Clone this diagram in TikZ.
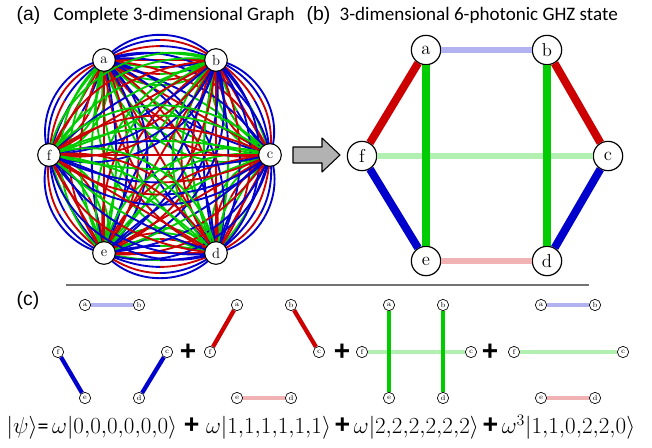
\documentclass[tikz,border=0pt]{standalone}
\usepackage{fontspec}
\usetikzlibrary{calc, positioning, backgrounds}
\newfontfamily\labelfont{Carlito}
\newfontfamily\tagfont{Liberation Sans}

\definecolor{modeblue}{RGB}{0,0,204}
\definecolor{modered}{RGB}{204,0,0}
\definecolor{modegreen}{RGB}{0,204,0}

\newcommand{\boldplus}[1]{{\tagfont\bfseries\fontsize{#1}{#1}\selectfont +}}
\newcommand{\ket}[1]{|#1\rangle}

\tikzset{
  fullnode/.style={circle, draw, fill=white, line width=0.8pt, minimum size=17pt, inner sep=0pt, font=\fontsize{11}{11}\selectfont},
  ghznode/.style={circle, draw, fill=white, line width=0.9pt, minimum size=22pt, inner sep=0pt, font=\fontsize{14}{14}\selectfont},
  termnode/.style={circle, draw, fill=white, line width=0.5pt, minimum size=8.5pt, inner sep=0pt, font=\fontsize{5.5}{5.5}\selectfont},
  ghzedge/.style={line width=6pt},
  ghzlight/.style={line width=4.5pt},
  termedge/.style={line width=3.2pt},
  termlight/.style={line width=3pt},
  multiedge/.style={line width=1.4pt}
}

\begin{document}
\begin{tikzpicture}[x=0.75pt, y=-0.75pt, line join=round]
\useasboundingbox (0,0) rectangle (652,447);

% Panel titles
\node[anchor=west, font=\tagfont\fontsize{14.5}{14.5}\selectfont] (taga) at (12,15) {(a)};
\node[anchor=west, font=\labelfont\fontsize{14.3}{14.3}\selectfont] (titlea) at (49,15) {Complete 3-dimensional Graph};
\node[anchor=west, font=\tagfont\fontsize{14.5}{14.5}\selectfont] (tagb) at (302,15) {(b)};
\node[anchor=west, font=\labelfont\fontsize{14.3}{14.3}\selectfont] (titleb) at (335,15) {3-dimensional 6-photonic GHZ state};
\node[anchor=west, font=\tagfont\fontsize{14.5}{14.5}\selectfont] (tagc) at (12,300) {(c)};

% Complete graph, all nine mode pairs on every edge
\node[fullnode] (Ka) at (104,60) {a};
\node[fullnode] (Kb) at (216,60) {b};
\node[fullnode] (Kc) at (270,155) {c};
\node[fullnode] (Kd) at (216,253) {d};
\node[fullnode] (Ke) at (104,253) {e};
\node[fullnode] (Kf) at (49,155) {f};

\begin{scope}[on background layer]
\foreach \u/\v in {a/b,b/c,c/d,d/e,e/f,f/a,a/c,a/d,a/e,b/d,b/e,b/f,c/e,c/f,d/f} {
  \foreach \bend/\cu/\cv in {50/modeblue/modeblue, 37.5/modeblue/modered,
      25/modered/modeblue, 12.5/modeblue/modegreen, 0/modered/modered,
      -12.5/modegreen/modeblue, -25/modered/modegreen, -37.5/modegreen/modered,
      -50/modegreen/modegreen} {
    \pgfmathsetmacro{\rebend}{-(\bend)}
    \coordinate (P0) at (K\u.center);
    \coordinate (P3) at (K\v.center);
    \coordinate (P1) at ($(P0)!0.3915!\bend:(P3)$);
    \coordinate (P2) at ($(P3)!0.3915!\rebend:(P0)$);
    \coordinate (M) at ($0.125*(P0)+0.375*(P1)+0.375*(P2)+0.125*(P3)$);
    \draw[multiedge, \cu] (P0) .. controls ($(P0)!0.5!(P1)$) and ($0.25*(P0)+0.5*(P1)+0.25*(P2)$) .. (M);
    \draw[multiedge, \cv] (M) .. controls ($0.25*(P1)+0.5*(P2)+0.25*(P3)$) and ($(P2)!0.5!(P3)$) .. (P3);
  }
}
\end{scope}

% Arrow between the panels
\draw[fill=gray!60, line width=0.8pt] (293,147) -- (322,147) -- (322,138) -- (340,155)
  -- (322,172) -- (322,163) -- (293,163) -- cycle;

% GHZ state graph
\node[ghznode] (Ga) at (426,50) {a};
\node[ghznode] (Gb) at (547,50) {b};
\node[ghznode] (Gc) at (608,156) {c};
\node[ghznode] (Gd) at (547,261) {d};
\node[ghznode] (Ge) at (426,261) {e};
\node[ghznode] (Gf) at (362,156) {f};

\draw[ghzlight, modegreen!30] (Gf) -- (Gc);
\draw[ghzlight, modeblue!30] (Ga) -- (Gb);
\draw[ghzlight, modered!30] (Ge) -- (Gd);
\draw[ghzedge, modegreen] (Ga) -- (Ge);
\draw[ghzedge, modegreen] (Gb) -- (Gd);
\draw[ghzedge, modered] (Gf) -- (Ga);
\draw[ghzedge, modered] (Gb) -- (Gc);
\draw[ghzedge, modeblue] (Gf) -- (Ge);
\draw[ghzedge, modeblue] (Gc) -- (Gd);

% Separator
\draw[line width=1pt, black!55] (66,285) -- (589,285);

% The four perfect matchings
\foreach \g/\sx in {1/85, 2/237, 3/389, 4/541} {
  \node[termnode] (c\g a) at (\sx,305) {a};
  \node[termnode] (c\g b) at (\sx+54,305) {b};
  \node[termnode] (c\g c) at (\sx+82,352) {c};
  \node[termnode] (c\g d) at (\sx+54,398) {d};
  \node[termnode] (c\g e) at (\sx,398) {e};
  \node[termnode] (c\g f) at (\sx-27,352) {f};
}

\draw[termlight, modeblue!30] (c1a) -- (c1b);
\draw[termedge, modeblue] (c1f) -- (c1e);
\draw[termedge, modeblue] (c1c) -- (c1d);

\draw[termedge, modered] (c2f) -- (c2a);
\draw[termedge, modered] (c2b) -- (c2c);
\draw[termlight, modered!30] (c2e) -- (c2d);

\draw[termlight, modegreen!30] (c3f) -- (c3c);
\draw[termedge, modegreen] (c3a) -- (c3e);
\draw[termedge, modegreen] (c3b) -- (c3d);

\draw[termlight, modeblue!30] (c4a) -- (c4b);
\draw[termlight, modegreen!30] (c4f) -- (c4c);
\draw[termlight, modered!30] (c4e) -- (c4d);

\node (plus1) at (188,352) {\boldplus{21}};
\node (plus2) at (342,352) {\boldplus{21}};
\node (plus3) at (490,352) {\boldplus{21}};

% State
\node[anchor=west, font=\fontsize{16.5}{16.5}\selectfont] (state) at (2,427)
  {$\ket{\psi}${\labelfont=}\,$\omega\ket{0{,}0{,}0{,}0{,}0{,}0}$ \boldplus{20} $\omega\ket{1{,}1{,}1{,}1{,}1{,}1}$\,\boldplus{20}\,$\omega\ket{2{,}2{,}2{,}2{,}2{,}2}$\,\boldplus{20}\,$\omega^3\ket{1{,}1{,}0{,}2{,}2{,}0}$};
\end{tikzpicture}
\end{document}
